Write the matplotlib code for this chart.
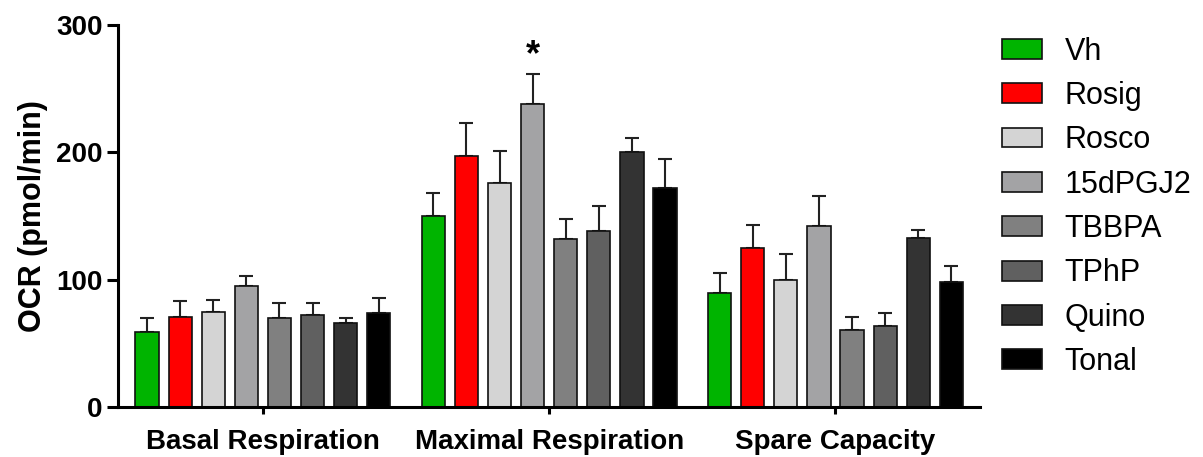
import numpy as np
import matplotlib
matplotlib.use("Agg")
import matplotlib.pyplot as plt

plt.rcParams['font.family'] = ['Liberation Sans', 'DejaVu Sans']

groups = ['Basal Respiration', 'Maximal Respiration', 'Spare Capacity']
treatments = ['Vh', 'Rosig', 'Rosco', '15dPGJ2', 'TBBPA', 'TPhP', 'Quino', 'Tonal']
colors = ['#00b400', '#ff0000', '#d4d4d4', '#a3a3a5', '#808080', '#606060', '#333333', '#000000']

basal = [59, 71, 75, 95, 70, 72, 66, 74]
basal_err = [11, 12, 9, 8, 12, 10, 4, 12]
maximal = [150, 197, 176, 238, 132, 138, 200, 172]
maximal_err = [18, 26, 25, 24, 16, 20, 11, 23]
spare = [90, 125, 100, 142, 61, 64, 133, 98]
spare_err = [15, 18, 20, 24, 10, 10, 6, 13]

values = np.array([basal, maximal, spare])
errors = np.array([basal_err, maximal_err, spare_err])

fig = plt.figure(figsize=(12.03, 4.57), dpi=100)
ax = fig.add_axes([0.098, 0.109, 0.717, 0.836])

centers = np.array([0, 8.65, 17.3])
offsets = np.arange(8) - 3.5
for i, name in enumerate(treatments):
    x = centers + offsets[i]
    ax.bar(x, values[:, i], width=0.7, color=colors[i], edgecolor='#111111',
           linewidth=1.2, label=name, zorder=2)
    ax.errorbar(x, values[:, i], yerr=[np.zeros(3), errors[:, i]], fmt='none',
                ecolor='#222222', elinewidth=1.5, capsize=5, capthick=1.5, zorder=1)

# significance marker over 15dPGJ2 maximal respiration
ax.text(centers[1] + offsets[3], maximal[3] + maximal_err[3], '*', ha='center',
        va='bottom', fontsize=26, fontweight='bold')

ax.set_xlim(-4.38, 21.68)
ax.set_ylim(0, 300)
ax.set_yticks([0, 100, 200, 300])
ax.set_xticks(centers)
ax.set_xticklabels(groups, fontsize=20, fontweight='bold')
ax.set_ylabel('OCR (pmol/min)', fontsize=22, fontweight='bold', labelpad=6)
for lab in ax.get_yticklabels():
    lab.set_fontweight('bold')
    lab.set_fontsize(20)

for s in ['top', 'right']:
    ax.spines[s].set_visible(False)
for s in ['left', 'bottom']:
    ax.spines[s].set_linewidth(2.2)
ax.tick_params(axis='y', width=2.2, length=8, pad=3)
ax.tick_params(axis='x', width=2.2, length=5, pad=11)

fig.legend(*ax.get_legend_handles_labels(), loc='upper left',
           bbox_to_anchor=(0.833, 0.92), bbox_transform=fig.transFigure,
           frameon=False, borderpad=0, borderaxespad=0,
           fontsize=22, handlelength=1.3, handleheight=0.62, labelspacing=0.47,
           handletextpad=0.75)

fig.savefig('out.png', dpi=100)
